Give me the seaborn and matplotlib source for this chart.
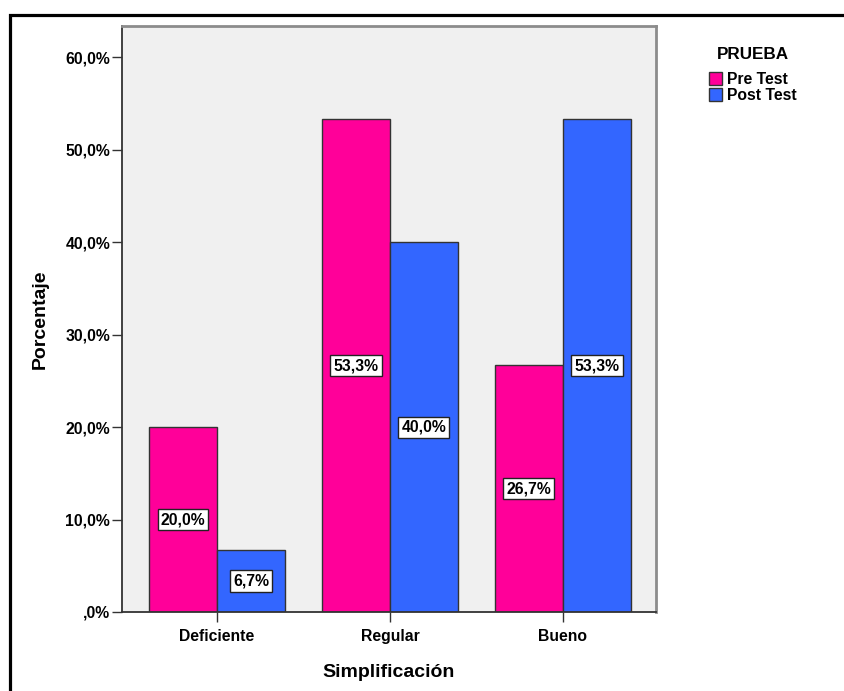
import matplotlib
matplotlib.use("Agg")
import matplotlib.pyplot as plt
from matplotlib.patches import Rectangle, Patch
from matplotlib.ticker import FuncFormatter
import seaborn as sns
import pandas as pd

categories = ["Deficiente", "Regular", "Bueno"]
groups = ["Pre Test", "Post Test"]
pre_test = [20.0, 53.3, 26.7]
post_test = [6.7, 40.0, 53.3]
colors = ["#FF0099", "#3366FF"]

df = pd.DataFrame({
    "Simplificación": categories * 2,
    "PRUEBA": [groups[0]] * 3 + [groups[1]] * 3,
    "Porcentaje": pre_test + post_test,
})

sns.set_theme(style="white")
plt.rcParams["font.family"] = ["Liberation Sans", "DejaVu Sans"]
plt.rcParams["font.weight"] = "bold"
for key in ["text.color", "axes.labelcolor", "xtick.color", "ytick.color"]:
    plt.rcParams[key] = "black"

W, H = 845, 691
fig = plt.figure(figsize=(W / 100, H / 100), dpi=100)
ax = fig.add_axes([122 / W, 1 - 612 / H, (656 - 122) / W, (612 - 26) / H])
ax.set_facecolor("#F0F0F0")

sns.barplot(data=df, x="Simplificación", y="Porcentaje", hue="PRUEBA",
            order=categories, hue_order=groups, palette=colors,
            width=0.786, edgecolor="#333333", linewidth=1.0, saturation=1,
            legend=False, ax=ax)

ax.set_xlim(-0.549, 2.538)
ax.set_ylim(0, 63.4)
ax.set_yticks([0, 10, 20, 30, 40, 50, 60])

def pct(v, _):
    s = f"{v:.1f}".replace(".", ",")
    if s.startswith("0"):
        s = s[1:]
    return s + "%"

ax.yaxis.set_major_formatter(FuncFormatter(pct))

# value labels in white boxes at the middle of each bar
for cont, vals in zip(ax.containers, [pre_test, post_test]):
    for bar, v in zip(cont, vals):
        x = bar.get_x() + bar.get_width() / 2
        ax.text(x, v / 2, f"{v:.1f}".replace(".", ",") + "%",
                ha="center", va="center", fontsize=11.3, fontweight="bold",
                color="black",
                bbox=dict(boxstyle="square,pad=0.2", facecolor="white",
                          edgecolor="#222222", linewidth=1.0))

for side in ["top", "right"]:
    ax.spines[side].set_color("#8C8C8C")
    ax.spines[side].set_linewidth(2.0)
for side in ["left", "bottom"]:
    ax.spines[side].set_color("#333333")
    ax.spines[side].set_linewidth(1.3)

ax.tick_params(axis="both", which="major", direction="out", length=7.5,
               width=1.0, color="#333333", labelsize=11.3, pad=1,
               left=True, bottom=True)
ax.tick_params(axis="x", pad=5)
for lab in ax.get_xticklabels() + ax.get_yticklabels():
    lab.set_fontweight("bold")

ax.set_xlabel("Simplificación", fontsize=14, fontweight="bold", labelpad=14)
ax.set_ylabel("Porcentaje", fontsize=14, fontweight="bold", labelpad=12)

handles = [Patch(facecolor=c, edgecolor="#333333", linewidth=1.0) for c in colors]
leg = fig.legend(handles, groups, title="PRUEBA", loc="upper left",
                 bbox_to_anchor=(698 / W, 1 - 36 / H), frameon=False,
                 handlelength=0.85, handleheight=0.95, handletextpad=0.3,
                 labelspacing=0.05, borderpad=0.2,
                 prop={"weight": "bold", "size": 11.3},
                 title_fontproperties={"weight": "bold", "size": 12.3})
leg._legend_box.align = "center"
leg._legend_box.sep = 7

# outer frame of the chart, open at the right and bottom edges
fig.patches.append(Rectangle((10 / W, -0.05), 1.2, 1 - 15.5 / H + 0.05,
                             transform=fig.transFigure, fill=False,
                             edgecolor="black", linewidth=2.3))

fig.savefig("out.png", dpi=100)
